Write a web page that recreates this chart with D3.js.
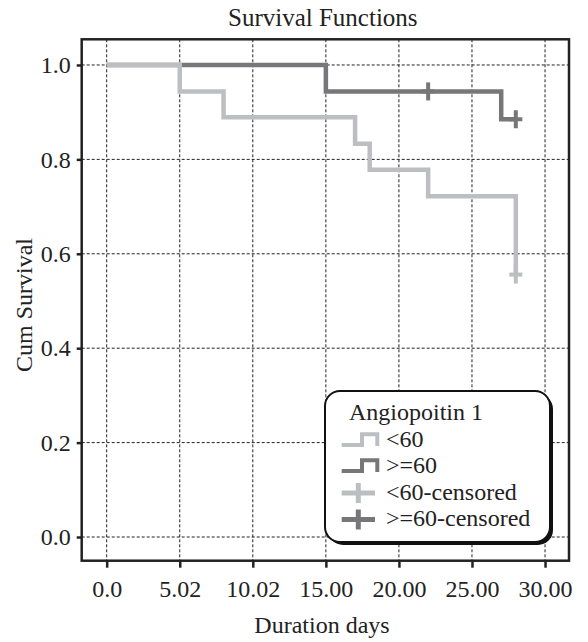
<!DOCTYPE html>
<html>
<head>
<meta charset="utf-8">
<script src="https://cdn.jsdelivr.net/npm/d3@7"></script>
<style>
  body { margin: 0; background: #fff; }
  svg text { font-family: "Liberation Serif", "Times New Roman", serif; fill: #222; }
</style>
</head>
<body>
<svg id="chart" width="588" height="642"></svg>
<script>
// data
var xTicks = [0, 5, 10, 15, 20, 25, 30];
var xTickLabels = ["0.0", "5.02", "10.02", "15.00", "20.00", "25.00", "30.00"];
var yTicks = [0, 0.2, 0.4, 0.6, 0.8, 1.0];
var yTickLabels = ["0.0", "0.2", "0.4", "0.6", "0.8", "1.0"];

var lowTimes = [0, 5, 8, 17, 18, 22, 28];
var lowSurv = [1, 0.944, 0.889, 0.833, 0.778, 0.722, 0.556];
var highTimes = [0, 15, 27, 28];
var highSurv = [1, 0.944, 0.885, 0.885];

var lowCensTimes = [28];
var lowCensSurv = [0.556];
var highCensTimes = [22, 28];
var highCensSurv = [0.944, 0.885];

var legendTitle = "Angiopoitin 1";
var legendLabels = ["<60", ">=60", "<60-censored", ">=60-censored"];

var lightGrey = "#bdbec1", darkGrey = "#77777a";
var serif = '"Liberation Serif", "Times New Roman", serif';

var svg = d3.select("svg#chart");

// plot frame
var plotL = 81.7, plotR = 569, plotT = 39.3, plotB = 560.7;

var x = d3.scaleLinear().domain([-1.71, 31.64]).range([plotL, plotR]);
var y = d3.scaleLinear().domain([-0.0502, 1.0544]).range([plotB, plotT]);

function addText(parent, str, size) {
  return parent.append("text")
    .attr("font-family", serif)
    .attr("fill", "#222")
    .style("font-size", size + "px")
    .text(str);
}

// title
addText(svg, "Survival Functions", 25)
  .attr("x", 322.8).attr("y", 26)
  .attr("text-anchor", "middle");

// grid
var grid = svg.append("g")
  .attr("stroke", "#222")
  .attr("stroke-width", 1)
  .attr("stroke-dasharray", "3,2");

grid.selectAll("line.vx")
  .data(xTicks)
  .join("line")
  .attr("class", "vx")
  .attr("x1", d => x(d)).attr("x2", d => x(d))
  .attr("y1", plotT).attr("y2", plotB);

grid.selectAll("line.hy")
  .data(yTicks)
  .join("line")
  .attr("class", "hy")
  .attr("x1", plotL).attr("x2", plotR)
  .attr("y1", d => y(d)).attr("y2", d => y(d));

// axes
var xAxis = d3.axisBottom(x)
  .tickValues(xTicks)
  .tickFormat(function (d, i) { return xTickLabels[i]; })
  .tickSize(7)
  .tickPadding(12);

var gx = svg.append("g")
  .attr("transform", "translate(0," + plotB + ")")
  .call(xAxis);

var yAxis = d3.axisLeft(y)
  .tickValues(yTicks)
  .tickFormat(function (d, i) { return yTickLabels[i]; })
  .tickSize(5)
  .tickPadding(6);

var gy = svg.append("g")
  .attr("transform", "translate(" + plotL + ",0)")
  .call(yAxis);

[gx, gy].forEach(function (g) {
  g.attr("font-family", serif).attr("font-size", 24);
  g.select(".domain").remove();
  g.selectAll(".tick line").attr("stroke", "#222").attr("stroke-width", 2.5);
  g.selectAll(".tick text").attr("fill", "#222");
});

// curves
var line = d3.line()
  .x(d => x(d[0]))
  .y(d => y(d[1]))
  .curve(d3.curveStepAfter);

var highPts = highTimes.map((t, i) => [t, highSurv[i]]);
var lowPts = lowTimes.map((t, i) => [t, lowSurv[i]]);

svg.append("path")
  .datum(highPts)
  .attr("d", line)
  .attr("fill", "none")
  .attr("stroke", darkGrey)
  .attr("stroke-width", 4.5);

svg.append("path")
  .datum(lowPts)
  .attr("d", line)
  .attr("fill", "none")
  .attr("stroke", lightGrey)
  .attr("stroke-width", 4.5);

function crosses(times, surv, color) {
  var g = svg.append("g").attr("stroke", color).attr("stroke-width", 4);
  times.forEach(function (t, i) {
    g.append("line")
      .attr("x1", x(t) - 6.5).attr("x2", x(t) + 6.5)
      .attr("y1", y(surv[i])).attr("y2", y(surv[i]));
    g.append("line")
      .attr("x1", x(t)).attr("x2", x(t))
      .attr("y1", y(surv[i]) - 9).attr("y2", y(surv[i]) + 9);
  });
}
crosses(highCensTimes, highCensSurv, darkGrey);
crosses(lowCensTimes, lowCensSurv, lightGrey);

// frame
svg.append("rect")
  .attr("x", plotL).attr("y", plotT)
  .attr("width", plotR - plotL).attr("height", plotB - plotT)
  .attr("fill", "none")
  .attr("stroke", "#222")
  .attr("stroke-width", 2.5);

// legend
var lg = svg.append("g");
lg.append("rect")
  .attr("x", 328).attr("y", 394)
  .attr("width", 225).attr("height", 151)
  .attr("rx", 15)
  .attr("fill", "#111");
lg.append("rect")
  .attr("x", 325).attr("y", 391)
  .attr("width", 225).attr("height", 151)
  .attr("rx", 15)
  .attr("fill", "#fff")
  .attr("stroke", "#111")
  .attr("stroke-width", 2);

addText(lg, legendTitle, 24)
  .attr("x", 349).attr("y", 420);

var baselines = [447, 473, 499.5, 526];
var colors = [lightGrey, darkGrey, lightGrey, darkGrey];

legendLabels.forEach(function (lab, i) {
  var b = baselines[i];
  if (i < 2) {
    lg.append("path")
      .attr("d", "M341.7," + (b - 2) + "H362V" + (b - 12.7) + "H377.3V" + (b - 1))
      .attr("fill", "none")
      .attr("stroke", colors[i])
      .attr("stroke-width", 4);
  } else {
    var cy = b - 6.5;
    lg.append("line")
      .attr("x1", 341.7).attr("x2", 375)
      .attr("y1", cy).attr("y2", cy)
      .attr("stroke", colors[i]).attr("stroke-width", 5);
    lg.append("line")
      .attr("x1", 358.3).attr("x2", 358.3)
      .attr("y1", cy - 10).attr("y2", cy + 10)
      .attr("stroke", colors[i]).attr("stroke-width", 5);
  }
  addText(lg, lab, 24)
    .attr("x", 386).attr("y", b);
});

// axis titles
addText(svg, "Duration days", 24)
  .attr("x", 322).attr("y", 633)
  .attr("text-anchor", "middle");

addText(svg, "Cum Survival", 24)
  .attr("transform", "translate(32,305) rotate(-90)")
  .attr("text-anchor", "middle");
</script>
</body>
</html>
